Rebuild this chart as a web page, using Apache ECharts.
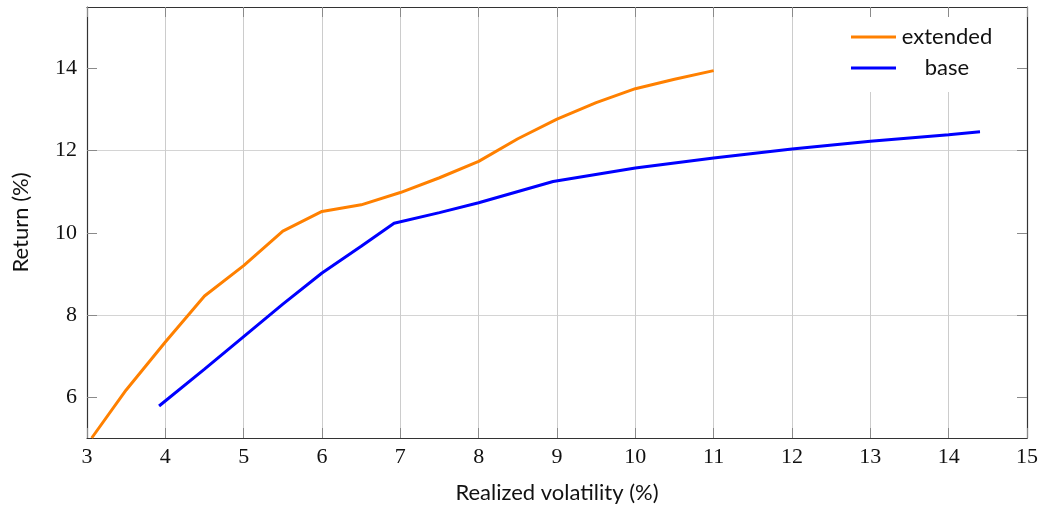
<!DOCTYPE html>
<html>
<head>
<meta charset="utf-8">
<script src="https://cdn.jsdelivr.net/npm/echarts@6/dist/echarts.min.js"></script>
<style>html,body{margin:0;padding:0;background:#fff}#c{width:1042px;height:505px}</style>
</head>
<body>
<div id="c"></div>
<script>
const extendedX = [3.06, 3.5, 4.0, 4.5, 5.0, 5.5, 6.0, 6.5, 7.0, 7.5, 8.0, 8.5, 9.0, 9.5, 10.0, 10.5, 11.0];
const extendedY = [5.0, 6.17, 7.34, 8.46, 9.2, 10.04, 10.52, 10.68, 10.98, 11.34, 11.74, 12.29, 12.77, 13.17, 13.51, 13.74, 13.95];
const baseX = [3.92, 4.5, 5.0, 5.5, 6.0, 6.5, 6.92, 7.5, 8.0, 8.95, 10.0, 11.0, 12.0, 13.0, 14.0, 14.4];
const baseY = [5.78, 6.68, 7.47, 8.26, 9.02, 9.67, 10.23, 10.49, 10.73, 11.25, 11.58, 11.82, 12.04, 12.23, 12.39, 12.46];
const xTicks = [3,4,5,6,7,8,9,10,11,12,13,14,15];
const yTicks = [6,8,10,12,14];
const seriesNames = ['extended', 'base'];
const xTitle = 'Realized volatility (%)';
const yTitle = 'Return (%)';

const pair = (xs, ys) => xs.map((x, i) => [x, ys[i]]);
const serifFont = 'Liberation Serif';
const sansFont = 'Lato';
const tickStyle = { show: true, inside: true, length: 10, lineStyle: { color: '#8a8a8a', width: 1 } };
const axisLine = { show: true, lineStyle: { color: '#333', width: 1.2 } };

const chart = echarts.init(document.getElementById('c'), null, { renderer: 'canvas' });
chart.setOption({
  animation: false,
  backgroundColor: '#fff',
  grid: { left: 87, right: 15, top: 7, bottom: 67, containLabel: false, outerBoundsMode: 'none' },
  legend: {
    orient: 'vertical',
    left: 840, top: 17,
    icon: 'rect', itemWidth: 45, itemHeight: 3, itemGap: 9,
    backgroundColor: '#fff', padding: [9, 18, 13, 11],
    formatter: '{a|{name}}',
    textStyle: { fontFamily: sansFont, fontSize: 22, color: '#111',
      rich: { a: { width: 92, align: 'center', fontFamily: sansFont, fontSize: 22, color: '#111' } } },
    data: seriesNames
  },
  xAxis: [{
    type: 'value', min: 3, max: 15, interval: 1, position: 'bottom',
    name: xTitle, nameLocation: 'middle', nameGap: 44,
    nameTextStyle: { fontFamily: sansFont, fontSize: 22, color: '#111' },
    axisLine, axisTick: tickStyle,
    axisLabel: { fontFamily: serifFont, fontSize: 22, color: '#111', margin: 8,
      formatter: v => xTicks.includes(v) ? String(v) : '' },
    splitLine: { show: true, lineStyle: { color: '#cccccc', width: 1 } }
  }, {
    type: 'value', min: 3, max: 15, interval: 1, position: 'top',
    axisLine, axisTick: tickStyle, axisLabel: { show: false }, splitLine: { show: false }
  }],
  yAxis: [{
    type: 'value', min: 5, max: 15.5, interval: 1, position: 'left',
    name: yTitle, nameLocation: 'middle', nameGap: 55,
    nameTextStyle: { fontFamily: sansFont, fontSize: 22, color: '#111' },
    axisLine,
    axisTick: Object.assign({}, tickStyle, { customValues: yTicks }),
    axisLabel: { fontFamily: serifFont, fontSize: 22, color: '#111', margin: 10,
      customValues: yTicks,
      formatter: v => yTicks.includes(v) ? String(v) : '' },
    splitLine: { show: true, lineStyle: { color: ['rgba(0,0,0,0)', '#d4d4d4'], width: 1 } }
  }, {
    type: 'value', min: 5, max: 15.5, interval: 1, position: 'right',
    axisLine,
    axisTick: Object.assign({}, tickStyle, { customValues: yTicks }),
    axisLabel: { show: false }, splitLine: { show: false }
  }],
  series: [{
    name: seriesNames[0], type: 'line', data: pair(extendedX, extendedY),
    showSymbol: false, symbol: 'none', clip: true,
    lineStyle: { color: '#ff8000', width: 3 }, itemStyle: { color: '#ff8000' }
  }, {
    name: seriesNames[1], type: 'line', data: pair(baseX, baseY),
    showSymbol: false, symbol: 'none', clip: true,
    lineStyle: { color: '#0000ff', width: 3 }, itemStyle: { color: '#0000ff' }
  }]
});
</script>
</body>
</html>
